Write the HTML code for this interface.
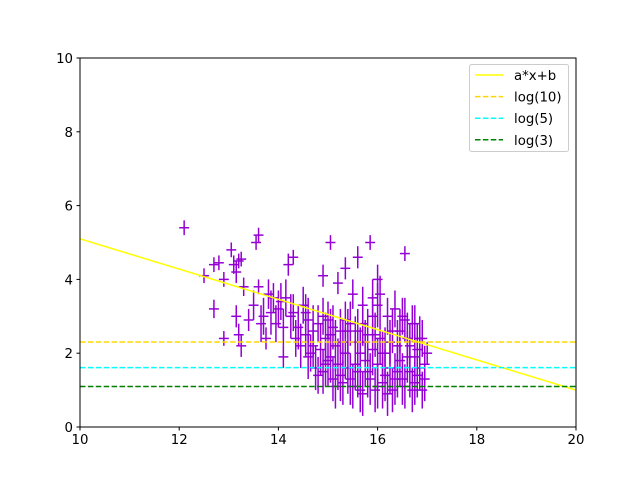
<!DOCTYPE html>
<html><head><meta charset="utf-8"><style>
body{margin:0;background:#fff}
svg{display:block;font-family:"DejaVu Sans","Liberation Sans",sans-serif}
</style></head><body>
<svg id="c" width="640" height="480"></svg>
<script>
const xTicks=[10,12,14,16,18,20];
const yTicks=[0,2,4,6,8,10];
const ptX=[12.1,12.5,12.7,12.8,12.7,12.9,12.9,13.05,13.1,13.15,13.2,13.25,13.15,13.2,13.25,13.3,13.4,13.5,13.55,13.6,13.6,13.65,13.7,13.75,13.8,13.85,13.9,13.95,14.0,14.05,14.1,14.1,14.15,14.2,14.25,14.3,14.3,14.35,14.4,14.45,14.5,14.55,14.6,14.65,14.7,14.75,14.8,14.85,14.9,14.9,14.95,15.0,15.05,15.05,15.1,15.15,15.2,15.2,15.25,15.3,15.35,15.35,15.4,15.45,15.5,15.5,15.55,15.6,15.6,15.65,15.7,15.7,15.75,15.8,15.85,15.85,15.9,15.9,15.95,16.0,16.0,16.05,16.05,16.1,16.15,16.2,16.2,16.25,16.3,16.35,16.4,16.45,16.5,16.55,16.55,16.6,16.65,16.7,16.75,16.8,16.85,16.9,16.9,16.95,17.0,
14.6,14.7,14.8,14.95,15.05,15.1,15.15,15.25,15.3,15.4,15.45,15.55,15.6,15.65,15.75,15.8,15.95,16.0,16.1,16.15,16.25,16.3,16.4,16.45,16.5,16.6,16.65,16.7,16.75,16.8,16.85,16.95,15.0,15.35,15.7,16.35,16.55,16.75,15.9,16.0,14.9,14.55];
const ptY=[5.4,4.1,4.4,4.45,3.2,4.0,2.4,4.8,4.4,4.2,4.5,4.55,3.0,2.5,2.2,3.8,2.9,3.3,5.0,5.2,3.8,2.8,3.0,2.4,3.6,3.1,3.5,2.8,3.2,3.4,2.7,1.9,3.5,4.4,3.0,4.6,3.1,2.4,2.7,2.2,3.3,2.5,2.9,2.0,2.6,1.6,2.8,2.1,4.1,1.5,2.4,1.8,5.0,2.5,1.3,2.2,3.9,1.7,2.6,1.2,4.3,2.0,1.6,2.8,1.1,3.6,2.3,4.6,1.5,2.0,3.3,0.9,1.8,2.5,5.0,1.3,3.0,2.1,1.0,4.0,1.7,3.6,2.4,1.2,2.0,3.0,0.9,1.6,2.6,1.3,2.2,1.8,3.0,4.7,1.1,2.4,1.5,2.8,1.2,2.1,1.6,2.4,1.0,1.7,2.0,
1.9,2.2,1.4,1.7,1.9,2.7,1.1,1.4,2.3,2.6,1.3,1.7,2.6,1.0,2.3,1.5,2.5,1.1,2.0,1.4,2.3,1.0,1.5,2.6,1.3,1.9,2.2,1.0,1.9,1.4,2.4,1.3,2.9,2.9,2.8,3.2,2.9,2.8,3.5,3.3,3.0,3.1];
const ptErr=[0.2,0.2,0.2,0.2,0.25,0.2,0.2,0.2,0.25,0.3,0.2,0.2,0.3,0.3,0.3,0.25,0.3,0.4,0.2,0.2,0.2,0.5,0.5,0.3,0.4,0.6,0.4,0.5,0.5,0.5,0.5,0.3,0.5,0.3,0.6,0.2,0.5,0.5,0.6,0.6,0.5,0.6,0.6,0.5,0.7,0.6,0.5,0.7,0.3,0.6,0.7,0.7,0.2,0.7,0.6,0.7,0.3,0.7,0.6,0.6,0.3,0.7,0.7,0.6,0.6,0.4,0.7,0.3,0.7,0.7,0.5,0.6,0.7,0.7,0.2,0.7,0.6,0.7,0.6,0.4,0.7,0.5,0.7,0.7,0.7,0.5,0.6,0.7,0.6,0.7,0.7,0.7,0.5,0.2,0.6,0.7,0.7,0.5,0.6,0.7,0.6,0.5,0.5,0.5,0.3,
0.6,0.6,0.5,0.6,0.7,0.6,0.6,0.7,0.6,0.6,0.7,0.7,0.6,0.6,0.6,0.7,0.6,0.6,0.6,0.7,0.6,0.6,0.7,0.6,0.7,0.7,0.6,0.6,0.6,0.6,0.6,0.6,0.5,0.5,0.6,0.5,0.6,0.5,0.5,0.6,0.5,0.5];
const xErr=0.1;
const fitA=-0.41, fitB=9.2;
const hLevels=[Math.log(10),Math.log(5),Math.log(3)];
const hColors=["#ffd700","#00ffff","#008000"];
const legendLabels=["a*x+b","log(10)","log(5)","log(3)"];

const NS="http://www.w3.org/2000/svg";
const svg=document.getElementById('c');
const L=80,R=576,T=58,B=427;
const sx=v=>L+(v-10)/10*(R-L);
const sy=v=>B-(v/10)*(B-T);
function mk(tag,attrs,parent){const e=document.createElementNS(NS,tag);for(const k in attrs)e.setAttribute(k,attrs[k]);(parent||svg).appendChild(e);return e;}

const pts=mk('g',{});


for(let i=0;i<ptX.length;i++){
  const g=mk('g',{stroke:'#9400d3','stroke-width':1.5},pts);
  
  
  mk('line',{x1:sx(ptX[i]),x2:sx(ptX[i]),y1:sy(ptY[i]-ptErr[i]),y2:sy(ptY[i]+ptErr[i])},g);
  mk('line',{x1:sx(ptX[i]-xErr),x2:sx(ptX[i]+xErr),y1:sy(ptY[i]),y2:sy(ptY[i])},g);
}
const fit=mk('line',{x1:sx(10),y1:sy(fitA*10+fitB),x2:sx(20),y2:sy(fitA*20+fitB),stroke:'#ffff00','stroke-width':1.5});


hLevels.forEach((v,i)=>{
  const l=mk('line',{x1:L,x2:R,y1:sy(v),y2:sy(v),stroke:hColors[i],'stroke-width':1.5,'stroke-dasharray':'5.5,2.4'});
  
  
});
const frame=mk('rect',{x:L,y:T,width:R-L,height:B-T,fill:'none',stroke:'#000','stroke-width':1});


xTicks.forEach(v=>{
  mk('line',{x1:sx(v),x2:sx(v),y1:B,y2:B+3.5,stroke:'#000'});
  const t=mk('text',{x:sx(v),y:B+17,'text-anchor':'middle','font-size':13.3});
  t.textContent=v;
  
  
});
yTicks.forEach(v=>{
  mk('line',{x1:L-3.5,x2:L,y1:sy(v),y2:sy(v),stroke:'#000'});
  const t=mk('text',{x:L-7,y:sy(v)+5,'text-anchor':'end','font-size':13.3});
  t.textContent=v;
  
  
});
const lg=mk('g',{});


mk('rect',{x:469.5,y:64.5,width:99,height:87,rx:2,fill:'#fff','fill-opacity':0.8,stroke:'#ccc'},lg);
const legColors=['#ffff00'].concat(hColors);
legendLabels.forEach((s,i)=>{
  const y=75+i*21.6;
  const attrs={x1:475,x2:503,y1:y,y2:y,stroke:legColors[i],'stroke-width':1.5};
  if(i>0)attrs['stroke-dasharray']='5.5,2.4';
  mk('line',attrs,lg);
  const t=mk('text',{x:514,y:y+5,'font-size':13.3},lg);
  t.textContent=s;
  
  
});
</script>
</body></html>
